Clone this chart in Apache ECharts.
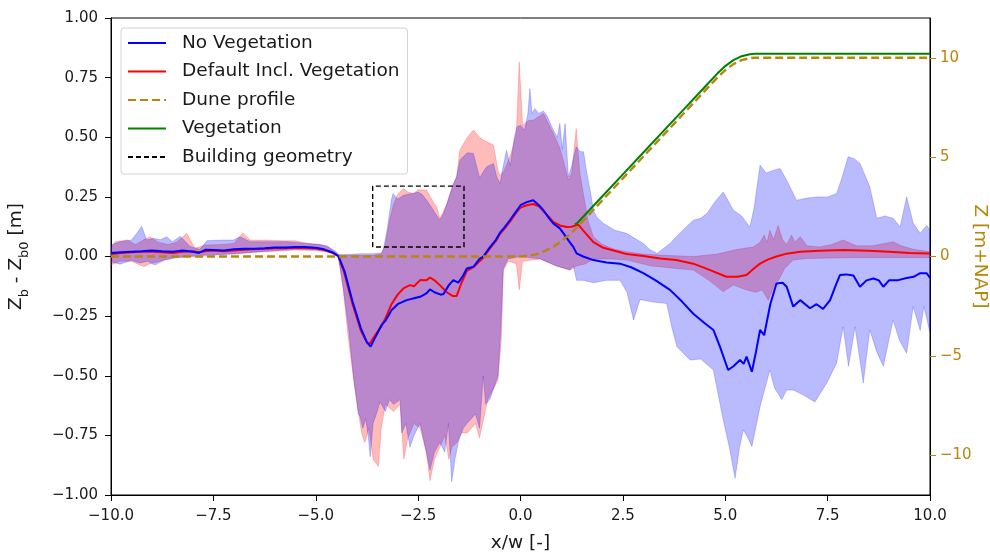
<!DOCTYPE html>
<html>
<head>
<meta charset="utf-8">
<script src="https://cdn.jsdelivr.net/npm/echarts@6/dist/echarts.min.js"></script>
<style>
  html, body { margin: 0; padding: 0; background: #fff; }
  #chart { width: 990px; height: 555px; }
</style>
</head>
<body>
<div id="chart"></div>
<script>
// Bed level change Z_b - Z_b0 [m] along x/w, mean of runs and min/max envelope
const noVegMean = [[-10,0.015],[-9.75,0.018],[-9.5,0.02],[-9.25,0.022],[-9,0.025],[-8.75,0.022],[-8.5,0.02],[-8.25,0.025],[-8,0.02],[-7.85,0.015],[-7.7,0.028],[-7.5,0.027],[-7.25,0.025],[-7,0.03],[-6.75,0.033],[-6.5,0.033],[-6.25,0.035],[-6,0.038],[-5.75,0.038],[-5.5,0.04],[-5.25,0.04],[-5,0.037],[-4.8,0.03],[-4.6,0.018],[-4.45,0.003],[-4.3,-0.06],[-4.1,-0.19],[-3.9,-0.3],[-3.75,-0.36],[-3.66,-0.378],[-3.55,-0.34],[-3.39,-0.287],[-3.3,-0.27],[-3.15,-0.225],[-3,-0.2],[-2.78,-0.183],[-2.6,-0.175],[-2.45,-0.169],[-2.3,-0.155],[-2.21,-0.138],[-2.1,-0.15],[-1.95,-0.16],[-1.88,-0.157],[-1.75,-0.12],[-1.64,-0.099],[-1.52,-0.11],[-1.4,-0.08],[-1.31,-0.05],[-1.15,-0.043],[-1.0,-0.01],[-0.91,0],[-0.74,0.04],[-0.6,0.07],[-0.5,0.1],[-0.4,0.12],[-0.26,0.152],[-0.1,0.19],[0,0.215],[0.15,0.228],[0.31,0.236],[0.45,0.215],[0.56,0.194],[0.7,0.16],[0.8,0.139],[0.96,0.118],[1.05,0.097],[1.2,0.06],[1.29,0.04],[1.37,0.013],[1.53,0],[1.78,-0.015],[2.1,-0.025],[2.43,-0.03],[2.7,-0.045],[3.0,-0.07],[3.3,-0.1],[3.65,-0.14],[3.95,-0.19],[4.22,-0.24],[4.5,-0.28],[4.71,-0.308],[4.87,-0.378],[5.07,-0.476],[5.2,-0.46],[5.36,-0.434],[5.45,-0.45],[5.52,-0.42],[5.65,-0.483],[5.75,-0.4],[5.85,-0.308],[5.95,-0.33],[6.1,-0.2],[6.25,-0.113],[6.4,-0.11],[6.5,-0.127],[6.66,-0.21],[6.83,-0.183],[7.07,-0.217],[7.23,-0.2],[7.39,-0.22],[7.56,-0.183],[7.7,-0.12],[7.8,-0.078],[7.95,-0.075],[8.13,-0.08],[8.29,-0.127],[8.45,-0.1],[8.62,-0.092],[8.75,-0.1],[8.86,-0.127],[9.0,-0.1],[9.2,-0.1],[9.43,-0.09],[9.6,-0.085],[9.76,-0.07],[9.92,-0.07],[10,-0.09]];

const vegMean = [[-10,0.01],[-9.75,0.015],[-9.5,0.018],[-9.25,0.02],[-9,0.02],[-8.75,0.018],[-8.5,0.015],[-8.25,0.02],[-8,0.022],[-7.85,0.018],[-7.7,0.022],[-7.5,0.025],[-7.25,0.022],[-7,0.025],[-6.75,0.028],[-6.5,0.03],[-6.25,0.032],[-6,0.035],[-5.75,0.035],[-5.5,0.037],[-5.25,0.036],[-5,0.034],[-4.8,0.028],[-4.6,0.016],[-4.45,0.002],[-4.3,-0.07],[-4.1,-0.2],[-3.9,-0.31],[-3.75,-0.36],[-3.68,-0.365],[-3.55,-0.33],[-3.39,-0.29],[-3.3,-0.26],[-3.15,-0.2],[-3.0,-0.16],[-2.86,-0.134],[-2.7,-0.12],[-2.6,-0.125],[-2.45,-0.099],[-2.3,-0.1],[-2.21,-0.088],[-2.1,-0.1],[-1.97,-0.12],[-1.8,-0.15],[-1.65,-0.166],[-1.56,-0.166],[-1.44,-0.11],[-1.31,-0.06],[-1.15,-0.045],[-1.0,-0.02],[-0.91,-0.005],[-0.74,0.035],[-0.6,0.065],[-0.5,0.095],[-0.4,0.115],[-0.26,0.145],[-0.1,0.185],[0,0.205],[0.15,0.215],[0.31,0.22],[0.45,0.21],[0.56,0.19],[0.7,0.165],[0.8,0.145],[0.96,0.13],[1.13,0.124],[1.25,0.125],[1.41,0.134],[1.55,0.105],[1.78,0.06],[2.0,0.038],[2.43,0.018],[2.59,0.01],[3.0,0.002],[3.41,-0.008],[3.8,-0.015],[4.22,-0.03],[4.6,-0.055],[5.03,-0.085],[5.3,-0.085],[5.52,-0.078],[5.7,-0.05],[5.85,-0.03],[6.05,-0.012],[6.25,0],[6.5,0.012],[6.83,0.02],[7.3,0.024],[7.88,0.027],[8.5,0.024],[9.0,0.02],[9.5,0.015],[10,0.013]];

const noVegUpper = [[-10,0.048],[-9.78,0.062],[-9.5,0.069],[-9.37,0.097],[-9.25,0.127],[-9.13,0.069],[-8.97,0.076],[-8.8,0.07],[-8.64,0.083],[-8.5,0.062],[-8.31,0.085],[-8.07,0.042],[-7.83,0.03],[-7.66,0.066],[-7.34,0.069],[-7.01,0.069],[-6.85,0.083],[-6.6,0.062],[-6.2,0.062],[-5.71,0.062],[-5.22,0.055],[-4.9,0.05],[-4.73,0.045],[-4.5,0.02],[-4.45,0.008],[-4.2,0.008],[-3.9,0.012],[-3.6,0.012],[-3.4,0.015],[-3.35,0.03],[-3.25,0.12],[-3.15,0.24],[-3.11,0.264],[-3.0,0.24],[-2.86,0.257],[-2.7,0.262],[-2.62,0.264],[-2.5,0.27],[-2.4,0.26],[-2.29,0.236],[-2.15,0.2],[-2.05,0.173],[-1.97,0.153],[-1.88,0.18],[-1.8,0.22],[-1.65,0.3],[-1.56,0.334],[-1.48,0.404],[-1.39,0.42],[-1.3,0.435],[-1.15,0.432],[-1.0,0.33],[-0.83,0.376],[-0.66,0.39],[-0.58,0.334],[-0.5,0.306],[-0.42,0.38],[-0.34,0.446],[-0.25,0.38],[-0.15,0.5],[-0.09,0.543],[0.0,0.55],[0.1,0.53],[0.18,0.6],[0.23,0.704],[0.28,0.6],[0.35,0.62],[0.45,0.6],[0.56,0.61],[0.65,0.59],[0.8,0.53],[0.9,0.5],[0.96,0.558],[1.02,0.45],[1.09,0.558],[1.17,0.334],[1.25,0.38],[1.36,0.46],[1.45,0.44],[1.54,0.439],[1.62,0.35],[1.7,0.278],[1.78,0.194],[1.86,0.166],[2.02,0.139],[2.3,0.11],[2.59,0.097],[2.8,0.075],[3.0,0.055],[3.15,0.03],[3.33,0.013],[3.5,0.035],[3.65,0.055],[3.9,0.1],[4.22,0.152],[4.4,0.16],[4.55,0.18],[4.75,0.23],[4.95,0.27],[5.05,0.24],[5.2,0.194],[5.4,0.17],[5.6,0.124],[5.7,0.2],[5.85,0.383],[6.0,0.35],[6.15,0.36],[6.34,0.369],[6.5,0.32],[6.74,0.236],[7.0,0.245],[7.23,0.25],[7.5,0.25],[7.72,0.264],[7.85,0.33],[8.0,0.418],[8.15,0.41],[8.29,0.39],[8.53,0.292],[8.7,0.16],[8.9,0.17],[9.1,0.16],[9.27,0.124],[9.43,0.25],[9.59,0.14],[9.76,0.097],[9.92,0.13],[10,0.11]];

const noVegLower = [[-10,-0.022],[-9.78,-0.032],[-9.5,-0.016],[-9.29,-0.027],[-9.1,-0.02],[-8.93,-0.036],[-8.7,-0.016],[-8.4,-0.005],[-8.1,0.0],[-7.83,0.005],[-7.5,0.008],[-7.0,0.01],[-6.5,0.018],[-6.0,0.025],[-5.5,0.03],[-5.0,0.028],[-4.7,0.02],[-4.5,0.008],[-4.45,0.0],[-4.33,-0.127],[-4.2,-0.3],[-4.08,-0.5],[-3.96,-0.66],[-3.92,-0.67],[-3.85,-0.72],[-3.78,-0.68],[-3.72,-0.75],[-3.67,-0.84],[-3.6,-0.7],[-3.5,-0.65],[-3.43,-0.61],[-3.3,-0.65],[-3.2,-0.6],[-3.1,-0.62],[-2.94,-0.6],[-2.9,-0.74],[-2.8,-0.7],[-2.7,-0.8],[-2.6,-0.75],[-2.45,-0.7],[-2.35,-0.78],[-2.21,-0.895],[-2.1,-0.82],[-1.97,-0.78],[-1.85,-0.82],[-1.76,-0.7],[-1.68,-0.944],[-1.6,-0.85],[-1.52,-0.78],[-1.4,-0.72],[-1.31,-0.7],[-1.2,-0.68],[-1.1,-0.66],[-1.0,-0.72],[-0.91,-0.5],[-0.85,-0.62],[-0.75,-0.6],[-0.65,-0.55],[-0.55,-0.5],[-0.48,-0.3],[-0.42,-0.05],[-0.3,-0.01],[0.0,0.0],[0.48,-0.01],[0.88,-0.04],[1.21,-0.057],[1.29,-0.04],[1.37,-0.1],[1.53,-0.1],[1.78,-0.11],[2.1,-0.1],[2.43,-0.1],[2.6,-0.15],[2.76,-0.266],[2.92,-0.18],[3.2,-0.19],[3.57,-0.197],[3.7,-0.3],[3.82,-0.378],[4.0,-0.41],[4.14,-0.434],[4.4,-0.43],[4.71,-0.476],[4.95,-0.685],[5.1,-0.8],[5.24,-0.93],[5.35,-0.8],[5.44,-0.727],[5.55,-0.76],[5.65,-0.797],[5.85,-0.63],[6.09,-0.476],[6.2,-0.55],[6.38,-0.6],[6.5,-0.56],[6.66,-0.56],[6.9,-0.58],[7.19,-0.61],[7.48,-0.53],[7.72,-0.448],[7.8,-0.37],[7.88,-0.295],[8.01,-0.46],[8.17,-0.295],[8.37,-0.53],[8.53,-0.308],[8.7,-0.4],[8.86,-0.46],[9.1,-0.266],[9.25,-0.35],[9.43,-0.406],[9.59,-0.21],[9.76,-0.31],[9.85,-0.21],[10,-0.32]];

const vegUpper = [[-10,0.035],[-9.9,0.062],[-9.6,0.069],[-9.4,0.05],[-9.2,0.07],[-9.05,0.083],[-8.85,0.06],[-8.6,0.05],[-8.4,0.06],[-8.15,0.097],[-7.95,0.035],[-7.7,0.048],[-7.3,0.05],[-7.0,0.055],[-6.78,0.099],[-6.6,0.069],[-6.2,0.069],[-5.8,0.066],[-5.5,0.066],[-5.2,0.055],[-4.9,0.05],[-4.7,0.04],[-4.5,0.015],[-4.45,0.005],[-4.2,0.005],[-3.6,0.005],[-3.4,0.01],[-3.3,0.05],[-3.2,0.15],[-3.1,0.22],[-3.0,0.26],[-2.86,0.285],[-2.75,0.27],[-2.62,0.264],[-2.5,0.28],[-2.4,0.28],[-2.29,0.278],[-2.2,0.25],[-2.1,0.22],[-2.05,0.21],[-1.97,0.16],[-1.88,0.19],[-1.8,0.22],[-1.65,0.3],[-1.56,0.334],[-1.48,0.446],[-1.3,0.5],[-1.15,0.53],[-1.0,0.5],[-0.91,0.488],[-0.66,0.467],[-0.55,0.36],[-0.5,0.34],[-0.4,0.36],[-0.3,0.4],[-0.2,0.45],[-0.1,0.52],[-0.03,0.816],[0.05,0.55],[0.2,0.57],[0.31,0.571],[0.56,0.6],[0.8,0.516],[0.95,0.46],[1.05,0.4],[1.17,0.32],[1.25,0.35],[1.36,0.537],[1.45,0.35],[1.55,0.25],[1.65,0.15],[1.78,0.083],[2.0,0.05],[2.3,0.03],[2.59,0.02],[3.0,0.01],[3.5,0.005],[4.22,0.0],[4.8,0.01],[5.3,0.03],[5.68,0.04],[5.85,0.06],[5.95,0.09],[6.02,0.06],[6.09,0.11],[6.18,0.07],[6.29,0.13],[6.4,0.07],[6.5,0.05],[6.62,0.09],[6.7,0.06],[6.83,0.083],[7.0,0.045],[7.3,0.04],[7.6,0.05],[7.88,0.069],[8.2,0.045],[8.6,0.045],[9.1,0.062],[9.3,0.045],[9.6,0.03],[10,0.02]];

const vegLower = [[-10,-0.036],[-9.8,-0.02],[-9.5,-0.02],[-9.2,-0.043],[-9.05,-0.03],[-8.8,-0.02],[-8.5,-0.005],[-8.2,-0.002],[-7.83,0.0],[-7.5,0.005],[-7.0,0.012],[-6.5,0.018],[-6.0,0.022],[-5.5,0.027],[-5.0,0.025],[-4.7,0.018],[-4.5,0.006],[-4.45,0.0],[-4.33,-0.14],[-4.2,-0.35],[-4.05,-0.55],[-3.88,-0.74],[-3.8,-0.78],[-3.7,-0.72],[-3.6,-0.85],[-3.47,-0.88],[-3.4,-0.72],[-3.3,-0.62],[-3.1,-0.65],[-2.94,-0.62],[-2.85,-0.85],[-2.75,-0.76],[-2.6,-0.7],[-2.45,-0.72],[-2.3,-0.82],[-2.21,-0.94],[-2.1,-0.85],[-1.97,-0.8],[-1.85,-0.75],[-1.75,-0.85],[-1.68,-0.8],[-1.55,-0.78],[-1.45,-0.74],[-1.3,-0.74],[-1.2,-0.72],[-1.1,-0.7],[-1.0,-0.76],[-0.9,-0.68],[-0.8,-0.6],[-0.65,-0.55],[-0.55,-0.52],[-0.47,-0.35],[-0.42,-0.06],[-0.3,-0.02],[-0.1,-0.03],[-0.03,-0.14],[0.05,-0.02],[0.48,-0.01],[0.88,-0.04],[1.21,-0.057],[1.37,-0.04],[1.6,-0.03],[1.78,-0.01],[2.2,-0.01],[2.59,-0.015],[3.2,-0.04],[3.8,-0.05],[4.22,-0.057],[4.6,-0.1],[4.95,-0.148],[5.2,-0.12],[5.52,-0.14],[5.75,-0.15],[5.9,-0.14],[6.05,-0.183],[6.2,-0.12],[6.3,-0.1],[6.45,-0.05],[6.66,-0.015],[7.0,-0.008],[8.0,-0.005],[9.0,-0.005],[10,-0.005]];

// Dune cross-section and vegetation surface, Z [m+NAP]
const duneProfile = [[-10,0],[0,0],[0.2,0.03],[0.4,0.12],[0.6,0.28],[0.8,0.49],[1.0,0.77],[1.2,1.11],[1.4,1.51],[2.0,2.83],[2.5,3.93],[3.0,5.03],[3.5,6.13],[4.0,7.23],[4.5,8.33],[4.8,8.99],[5.0,9.38],[5.2,9.68],[5.4,9.88],[5.6,9.98],[5.72,10],[10,10]];
const vegetationLine = [[1.33,1.62],[1.4,1.71],[2.0,3.03],[2.5,4.13],[3.0,5.23],[3.5,6.33],[4.0,7.43],[4.5,8.53],[4.8,9.19],[5.0,9.58],[5.2,9.88],[5.4,10.08],[5.6,10.18],[5.72,10.2],[10,10.2]];

// Building outline (x/w, Z_b - Z_b0)
const building = [[-3.61,0.04],[-3.61,0.295],[-1.38,0.295],[-1.38,0.04],[-3.61,0.04]];

const xTicks = { min: -10, max: 10, step: 2.5 };
const leftTicks = { min: -1, max: 1, step: 0.25 };
const rightTickValues = [-10, -5, 0, 5, 10];

const FONT = 'DejaVu Sans';
const GOLD = '#b8860b';
const INK = '#1a1a1a';
const TICK_SIZE = 15;
const LABEL_SIZE = 18.5;
const minus = (s) => s.replace('-', '\u2212');

function band(upper, lower, fill, stroke) {
  return {
    type: 'custom',
    coordinateSystem: 'cartesian2d',
    xAxisIndex: 0, yAxisIndex: 0,
    silent: true,
    clip: true,
    data: [[0, 0]],
    renderItem: function (params, api) {
      const pts = upper.map(p => api.coord(p))
        .concat(lower.slice().reverse().map(p => api.coord(p)));
      return {
        type: 'polygon',
        shape: { points: pts },
        style: { fill: fill, stroke: stroke, lineWidth: 1 }
      };
    }
  };
}

const chart = echarts.init(document.getElementById('chart'), null, { renderer: 'canvas' });
chart.setOption({
  animation: false,
  backgroundColor: '#fff',
  textStyle: { fontFamily: FONT },
  grid: { left: 111, right: 60, top: 18, bottom: 60, containLabel: false, outerBoundsMode: 'none',
          show: true, borderColor: '#000', borderWidth: 1, backgroundColor: 'transparent' },
  legend: {
    data: ['No Vegetation', 'Default Incl. Vegetation', 'Dune profile', 'Vegetation', 'Building geometry'],
    orient: 'vertical',
    left: 121, top: 28,
    itemWidth: 38, itemHeight: 20, itemGap: 8.5,
    padding: [5, 8, 7, 6],
    backgroundColor: 'rgba(255,255,255,0.8)',
    borderColor: '#d3d3d3', borderWidth: 1, borderRadius: 3,
    itemStyle: { opacity: 0 },
    textStyle: { fontFamily: FONT, fontSize: LABEL_SIZE, lineHeight: 20, color: INK, padding: [0, 0, 0, 11] }
  },
  xAxis: {
    type: 'value', min: xTicks.min, max: xTicks.max, interval: xTicks.step,
    name: 'x/w [-]', nameLocation: 'middle', nameGap: 39, nameMoveOverlap: false,
    nameTextStyle: { fontFamily: FONT, fontSize: LABEL_SIZE, color: INK },
    axisLine: { show: true, onZero: false, lineStyle: { color: '#000', width: 1 } },
    axisTick: { show: true, inside: false, length: 6, lineStyle: { color: '#000' } },
    axisLabel: { fontFamily: FONT, fontSize: TICK_SIZE, color: INK, margin: 14,
                 formatter: v => minus(v.toFixed(1)) },
    splitLine: { show: false }
  },
  yAxis: [
    {
      type: 'value', min: leftTicks.min, max: leftTicks.max, interval: leftTicks.step,
      name: '{a|Z}{s|b}{a| - Z}{s|b0}{a| [m]}',
      nameLocation: 'middle', nameGap: 80, nameRotate: 90, nameMoveOverlap: false,
      nameTextStyle: {
        fontFamily: FONT, fontSize: LABEL_SIZE, color: INK,
        rich: {
          a: { fontFamily: FONT, fontSize: LABEL_SIZE, color: INK, verticalAlign: 'bottom', padding: [0, 0, 5, 0] },
          s: { fontFamily: FONT, fontSize: 13, color: INK, verticalAlign: 'bottom' }
        }
      },
      axisLine: { show: true, onZero: false, lineStyle: { color: '#000', width: 1 } },
      axisTick: { show: true, inside: false, length: 6, lineStyle: { color: '#000' } },
      axisLabel: { fontFamily: FONT, fontSize: TICK_SIZE, color: INK, margin: 13,
                   formatter: v => minus(v.toFixed(2)) },
      splitLine: { show: false }
    },
    {
      type: 'value', position: 'right', min: -12, max: 12,
      name: 'Z [m+NAP]', nameLocation: 'middle', nameGap: 40, nameRotate: -90, nameMoveOverlap: false,
      nameTextStyle: { fontFamily: FONT, fontSize: LABEL_SIZE, color: GOLD },
      axisLine: { show: true, onZero: false, lineStyle: { color: '#000', width: 1 } },
      axisTick: { show: true, inside: false, length: 6, customValues: rightTickValues, lineStyle: { color: GOLD } },
      axisLabel: { fontFamily: FONT, fontSize: TICK_SIZE, color: GOLD, margin: 10, customValues: rightTickValues,
                   formatter: v => minus(String(v)) },
      splitLine: { show: false }
    }
  ],
  series: [
    band(vegUpper, vegLower, 'rgba(255,0,0,0.27)', 'rgba(255,0,0,0.2)'),
    band(noVegUpper, noVegLower, 'rgba(0,0,255,0.27)', 'rgba(0,0,255,0.2)'),
    {
      name: 'Default Incl. Vegetation', type: 'line', data: vegMean, symbol: 'none',
      lineStyle: { color: '#ff0000', width: 2 }, itemStyle: { color: '#ff0000' }, z: 3
    },
    {
      name: 'No Vegetation', type: 'line', data: noVegMean, symbol: 'none',
      lineStyle: { color: '#0000ff', width: 2 }, itemStyle: { color: '#0000ff' }, z: 4
    },
    {
      name: 'Building geometry', type: 'line', data: building, symbol: 'none',
      lineStyle: { color: '#000', width: 1.4, type: [5, 3] }, itemStyle: { color: '#000' }, z: 5
    },
    {
      name: 'Dune profile', type: 'line', yAxisIndex: 1, data: duneProfile, symbol: 'none',
      lineStyle: { color: GOLD, width: 2.4, type: [8, 4] }, itemStyle: { color: GOLD }, z: 6
    },
    {
      name: 'Vegetation', type: 'line', yAxisIndex: 1, data: vegetationLine, symbol: 'none',
      lineStyle: { color: '#008000', width: 2 }, itemStyle: { color: '#008000' }, z: 6
    }
  ]
});
</script>
</body>
</html>
